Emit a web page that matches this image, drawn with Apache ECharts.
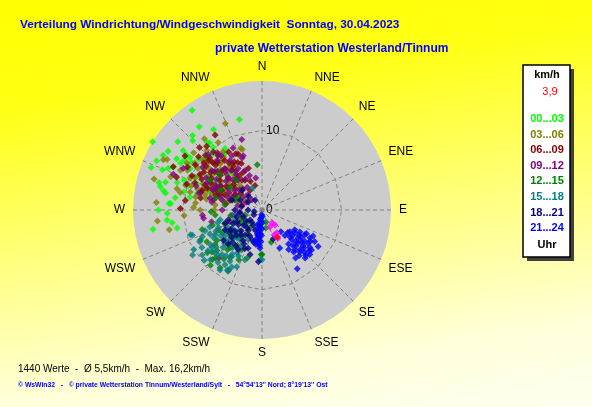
<!DOCTYPE html>
<html>
<head>
<meta charset="utf-8">
<title>Verteilung Windrichtung/Windgeschwindigkeit</title>
<script src="https://cdn.jsdelivr.net/npm/echarts/dist/echarts.min.js"></script>
<style>
html, body { margin: 0; padding: 0; }
#chart {
    width: 592px; height: 407px;
    background: linear-gradient(172deg, #ffff00 0%, #ffff14 22%, #ffff78 52%, #ffffd8 82%, #fffff2 100%);
}
</style>
</head>
<body>
<div id="chart"></div>
<script>
// compass directions, every 22.5 deg clockwise from north
var dirLabels = ['N', 'NNE', 'NE', 'ENE', 'E', 'ESE', 'SE', 'SSE', 'S', 'SSW', 'SW', 'WSW', 'W', 'WNW', 'NW', 'NNW'];
var hourLabels = ['00...03', '03...06', '06...09', '09...12', '12...15', '15...18', '18...21', '21...24'];
var hourColors = ['#00ff00', '#808000', '#800000', '#800080', '#008000', '#008080', '#000080', '#0000ff'];

// [speed km/h, direction deg]
var h00 = [[15.3, 325], [13.1, 323], [16.2, 302], [11.8, 329], [11.7, 346], [14.6, 295], [13.9, 302], [13.5, 292],
    [13.1, 283], [12.6, 281], [11.7, 274], [12.4, 307], [11.8, 306], [10.7, 304], [12.3, 315], [10.7, 322],
    [10.0, 322], [9.0, 329], [9.6, 313], [13.9, 260], [11.9, 268], [11.4, 262], [11.5, 274], [12.3, 280],
    [10.1, 283], [11.2, 288], [8.8, 292], [13.4, 285], [11.8, 300], [11.2, 306], [8.0, 301], [6.9, 289],
    [6.4, 299], [4.2, 287], [12.5, 301], [11.6, 303], [12.4, 296], [12.6, 286], [10.4, 300], [10.9, 321],
    [8.5, 327], [7.5, 310], [5.5, 295], [9.5, 296], [6.0, 320], [3.5, 300], [9.8, 288], [10.5, 291],
    [12.9, 294], [14.2, 299], [11.0, 278], [12.0, 264], [13.0, 270], [9.2, 280], [10.2, 309], [9.4, 318],
    [7.2, 292], [6.8, 306], [8.4, 284], [14.9, 291], [13.6, 309], [12.8, 317], [10.9, 258]];
var h03 = [[11.8, 337], [10.1, 327], [11.5, 321], [8.0, 342], [13.9, 297], [14.1, 286], [13.3, 274], [11.9, 258],
    [8.6, 272], [10.5, 282], [8.2, 341], [13.5, 298], [11.1, 302], [9.2, 322], [8.2, 324], [8.9, 299],
    [7.5, 300], [7.4, 285], [7.3, 314], [8.5, 281], [5.9, 276], [5.1, 308], [3.7, 312], [9.3, 284],
    [10.1, 288], [8.7, 314], [6.8, 321], [7.75, 270], [13.2, 264], [7.9, 290], [5.5, 322], [2.5, 300],
    [5.3, 290], [11.4, 296], [6.2, 305], [7.0, 296], [8.3, 308], [9.6, 303], [6.6, 288], [5.8, 300],
    [7.8, 318], [9.0, 311], [4.5, 296], [6.9, 327], [8.1, 294], [9.9, 294], [10.6, 298], [7.1, 281],
    [5.0, 283], [4.2, 318], [8.8, 326], [7.6, 306], [6.3, 315], [10.2, 317], [9.4, 289], [3.3, 290],
    [8.4, 276], [11.0, 284], [12.2, 290], [6.0, 270], [9.8, 266], [5.6, 311], [6.8, 299], [7.9, 302],
    [8.9, 305], [9.7, 310], [6.0, 292], [5.2, 299], [7.3, 290], [8.5, 288], [10.3, 305], [6.5, 322],
    [4.8, 304], [9.3, 296], [11.2, 310], [7.1, 310], [8.0, 320]];
var h06 = [[11.1, 328], [11.1, 315], [7.8, 335], [11.5, 291], [9.3, 315], [10.25, 271], [8.1, 314], [7.8, 323],
    [6.25, 323], [6.5, 305], [5.2, 328], [8.0, 306], [4.35, 309], [4.3, 330], [5.0, 292], [2.9, 329],
    [6.6, 292], [5.8, 313], [8.8, 321], [6.7, 333], [7.8, 294], [5.5, 342], [4.2, 287], [2.6, 284],
    [3.2, 344], [10.1, 304], [7.85, 281], [9.7, 277], [9.2, 313], [6.0, 300], [7.0, 315], [9.0, 300],
    [5.0, 318], [3.8, 300], [10.4, 310], [6.8, 310], [7.5, 302], [8.5, 297], [5.6, 296], [4.8, 312],
    [7.2, 325], [8.9, 308], [6.1, 288], [9.5, 320], [5.3, 334], [3.6, 318], [7.9, 288], [10.8, 300],
    [6.4, 336], [4.6, 280], [8.4, 330], [9.8, 296], [6.9, 318], [5.9, 326], [3.9, 338], [7.4, 292],
    [8.2, 317], [10.0, 289], [12.4, 296], [11.8, 305], [5.4, 304], [6.3, 296], [7.7, 309], [8.7, 303],
    [9.4, 309], [6.6, 327], [4.0, 294], [5.1, 322], [7.3, 298], [8.0, 286], [9.1, 292], [6.2, 282],
    [7.0, 330], [8.6, 314], [5.7, 290], [10.6, 319], [4.5, 326], [3.4, 308], [9.9, 314], [7.6, 337]];
var h09 = [[9.2, 344], [8.5, 323], [12.0, 292], [11.2, 298], [7.4, 262], [7.5, 265], [8.1, 222], [9.7, 316],
    [6.6, 316], [4.8, 321], [2.6, 317], [7.4, 327], [6.65, 298], [5.4, 337], [1.8, 315], [3.9, 299],
    [5.15, 284], [2.8, 265], [6.7, 283], [5.1, 303], [4.1, 349], [7.0, 339], [3.8, 260], [8.0, 308],
    [6.0, 330], [4.5, 290], [8.6, 335], [5.8, 309], [7.0, 318], [6.2, 294], [4.2, 305], [8.1, 300],
    [5.5, 324], [3.4, 327], [6.9, 304], [7.8, 331], [4.6, 340], [9.2, 306], [6.4, 279], [5.0, 270],
    [3.1, 280], [8.8, 290], [7.2, 341], [2.2, 296], [5.9, 314], [6.5, 257], [4.3, 250], [6.1, 300],
    [7.4, 311], [8.4, 318], [5.3, 316], [4.7, 298], [6.8, 293], [7.7, 296], [9.0, 322], [5.6, 287],
    [3.8, 312], [6.3, 322], [8.2, 285], [2.9, 305], [4.4, 332]];
var h12 = [[5.7, 354], [7.9, 252], [8.8, 225], [9.5, 223], [8.4, 224], [6.3, 197], [8.95, 216], [8.6, 244],
    [8.7, 232], [5.6, 180], [6.2, 220], [1.6, 162], [2.3, 168], [4.2, 164], [3.1, 185], [5.6, 181],
    [4.7, 278], [3.7, 246], [2.2, 254], [5.8, 296], [4.7, 238], [5.9, 264], [3.9, 225], [2.7, 214],
    [3.4, 297], [6.5, 253], [6.1, 224], [5.6, 207], [5.0, 319], [7.0, 310], [6.0, 285], [5.2, 230],
    [6.8, 236], [7.6, 228], [4.4, 218], [6.0, 245], [3.0, 240], [8.0, 240], [7.2, 214], [5.4, 215],
    [4.0, 260], [6.4, 268], [3.6, 290], [4.9, 305], [7.5, 300], [2.5, 230], [6.9, 205], [8.2, 230],
    [5.7, 240], [6.6, 221], [7.3, 234], [4.6, 230], [3.5, 210], [5.0, 250], [7.8, 218], [2.8, 248],
    [8.6, 209]];
var h15 = [[10.4, 237], [8.9, 238], [9.2, 215], [8.7, 210], [6.25, 180], [7.85, 233], [7.0, 213], [6.2, 210],
    [6.6, 199], [8.6, 220], [9.5, 251], [9.4, 233], [8.8, 209], [7.8, 204], [6.25, 182], [9.3, 250],
    [5.4, 257], [4.4, 239], [6.65, 242], [5.95, 231], [4.65, 216], [7.8, 236], [3.4, 260], [4.1, 205],
    [7.5, 222], [7.6, 212], [2.8, 229], [5.9, 248], [3.0, 336], [8.0, 228], [6.8, 226], [5.0, 225],
    [7.2, 245], [5.6, 236], [6.3, 228], [7.0, 240], [4.9, 245], [6.0, 218], [7.3, 218], [8.3, 214],
    [5.3, 210], [3.9, 228], [6.9, 252], [8.2, 246], [9.0, 226], [7.9, 224], [6.5, 207], [4.5, 232],
    [5.8, 254], [9.9, 240], [3.6, 250], [6.1, 238], [7.4, 231], [8.5, 233], [5.5, 227], [6.7, 214],
    [8.1, 208], [4.7, 222], [7.6, 250], [5.0, 240], [9.6, 229], [6.4, 245], [8.8, 243]];
var h18 = [[6.15, 232], [5.1, 200], [3.9, 159], [3.0, 294], [1.75, 270], [3.4, 270], [1.95, 230], [3.5, 238],
    [3.8, 214], [4.4, 254], [3.95, 198], [3.5, 315], [1.5, 325], [3.95, 288], [2.9, 220], [2.65, 199],
    [5.25, 242], [5.8, 211], [5.8, 195], [6.5, 184], [4.5, 225], [5.0, 235], [2.5, 250], [4.8, 208],
    [3.2, 190], [4.0, 245], [3.0, 230], [4.1, 220], [2.2, 210], [3.6, 205], [5.5, 222], [4.6, 238],
    [2.0, 300], [2.6, 280], [3.3, 255], [1.2, 240], [4.2, 194], [5.3, 204], [6.0, 225], [2.8, 262],
    [4.9, 250], [2.4, 315], [3.7, 225], [4.3, 232], [5.1, 228], [2.4, 236], [3.1, 214], [4.5, 212],
    [5.6, 216], [3.4, 245], [2.0, 220], [1.0, 260]];
var h21 = [[0.6, 185], [1.0, 186], [1.4, 184], [1.8, 186], [2.2, 185], [2.6, 186], [3.0, 184], [3.4, 186],
    [3.8, 185], [4.2, 186], [4.5, 184], [1.2, 190], [2.0, 190], [2.8, 189], [3.6, 190], [4.4, 190],
    [0.8, 178], [1.6, 180], [2.4, 181], [3.2, 181], [4.0, 182], [4.8, 183], [3.0, 191], [2.4, 193],
    [1.8, 195], [4.0, 192],
    [4.45, 128], [4.8, 121], [5.5, 120], [6.2, 120], [6.95, 120], [5.7, 128], [5.3, 135], [6.4, 129],
    [7.15, 126], [7.7, 121], [6.2, 137], [7.1, 132], [8.0, 129], [7.1, 138], [6.6, 143], [7.9, 136],
    [4.3, 138], [8.4, 123], [7.35, 145], [8.6, 149], [5.25, 155], [3.6, 139], [4.3, 131], [8.2, 133],
    [7.2, 117], [5.0, 125], [6.0, 125], [6.8, 131], [7.5, 135], [5.8, 133], [6.5, 140], [7.6, 128],
    [5.0, 130], [5.6, 124], [6.1, 132], [6.6, 126], [7.2, 123], [6.9, 136], [5.9, 139], [7.8, 131],
    [6.3, 118], [5.4, 142], [7.4, 141], [8.1, 138], [4.9, 134], [6.0, 146]];
var recent = [[2.05, 142], [2.5, 139], [2.35, 155], [3.4, 147], [4.1, 151], [3.5, 154]];
var current = [[3.9, 150]];
var ringSpeed = 10;

var hourData = [h00, h03, h06, h09, h12, h15, h18, h21];
var font = '"Liberation Sans", Arial, sans-serif';

var chart = echarts.init(document.getElementById('chart'));

var series = [];
// dashed 16-gon at 10 km/h
series.push({
    type: 'line',
    coordinateSystem: 'polar',
    symbol: 'none',
    silent: true,
    z: 2,
    lineStyle: { color: '#808080', width: 1, type: [4, 3] },
    data: dirLabels.map(function (d, i) { return [ringSpeed, i * 22.5]; }).concat([[ringSpeed, 360]])
});
for (var i = 0; i < hourData.length; i++) {
    series.push({
        name: hourLabels[i],
        type: 'scatter',
        coordinateSystem: 'polar',
        symbol: 'diamond',
        symbolSize: 7,
        z: 3,
        itemStyle: { color: hourColors[i] },
        data: hourData[i]
    });
}
series.push({
    type: 'scatter', coordinateSystem: 'polar', symbol: 'diamond', symbolSize: 7, z: 4,
    itemStyle: { color: '#ff00ff' }, data: recent
});
series.push({
    type: 'scatter', coordinateSystem: 'polar', symbol: 'diamond', symbolSize: 7, z: 5,
    itemStyle: { color: '#ff0000' }, data: current
});

var graphic = [
    { type: 'text', left: 20, top: 19, style: { text: 'Verteilung Windrichtung/Windgeschwindigkeit  Sonntag, 30.04.2023', fill: '#0000ff', font: 'bold 11.8px ' + font } },
    { type: 'text', left: 215, top: 43, style: { text: 'private Wetterstation Westerland/Tinnum', fill: '#0000ff', font: 'bold 12px ' + font } },
    { type: 'text', left: 18, top: 364, style: { text: '1440 Werte  -  Ø 5,5km/h  -  Max. 16,2km/h', fill: '#000000', font: '10px ' + font } },
    { type: 'text', left: 18, top: 382, style: { text: '© WsWin32   -   © private Wetterstation Tinnum/Westerland/Sylt   -   54°54\'13\'\' Nord; 8°19\'13\'\' Ost', fill: '#0000ff', font: 'bold 6.8px ' + font } },
    { type: 'rect', shape: { x: 527, y: 69, width: 47, height: 192 }, style: { fill: '#404040' } },
    { type: 'rect', shape: { x: 523, y: 65, width: 47, height: 192 }, style: { fill: '#ffffff', stroke: '#000000', lineWidth: 1.5 } },
    { type: 'text', x: 547, y: 75, style: { text: 'km/h', fill: '#000000', font: 'bold 11px ' + font, align: 'center', verticalAlign: 'middle' } },
    { type: 'text', x: 550, y: 92, style: { text: '3,9', fill: '#ff0000', font: '11px ' + font, align: 'center', verticalAlign: 'middle' } },
    { type: 'text', x: 547, y: 245, style: { text: 'Uhr', fill: '#000000', font: 'bold 11px ' + font, align: 'center', verticalAlign: 'middle' } }
];
hourLabels.forEach(function (lbl, i) {
    graphic.push({ type: 'text', x: 547, y: 119 + i * 15.6, style: { text: lbl, fill: hourColors[i], font: 'bold 11px ' + font, align: 'center', verticalAlign: 'middle' } });
});

chart.setOption({
    animation: false,
    polar: { center: [262, 210], radius: 129 },
    angleAxis: {
        type: 'value',
        min: 0,
        max: 360,
        interval: 22.5,
        startAngle: 90,
        clockwise: true,
        z: 1,
        axisLine: { show: false },
        axisTick: { show: false },
        axisLabel: {
            margin: 8,
            color: '#000000',
            fontSize: 12,
            fontFamily: font,
            formatter: function (v) { return v >= 360 ? '' : dirLabels[Math.round(v / 22.5)]; }
        },
        splitLine: { show: true, lineStyle: { color: '#808080', width: 1, type: [4, 3] } },
        splitArea: { show: false }
    },
    radiusAxis: {
        type: 'value',
        min: 0,
        max: 16.2,
        interval: 10,
        z: 0,
        axisLine: { show: false },
        axisTick: { show: false },
        splitLine: { show: false },
        splitArea: { show: true, areaStyle: { color: ['#cccccc'] } },
        axisLabel: {
            color: '#000000',
            fontSize: 12,
            fontFamily: font,
            align: 'left',
            margin: -4,
            formatter: function (v) { return (v === 0 || v === 10) ? String(v) : ''; }
        }
    },
    graphic: graphic,
    series: series
});
</script>
</body>
</html>
